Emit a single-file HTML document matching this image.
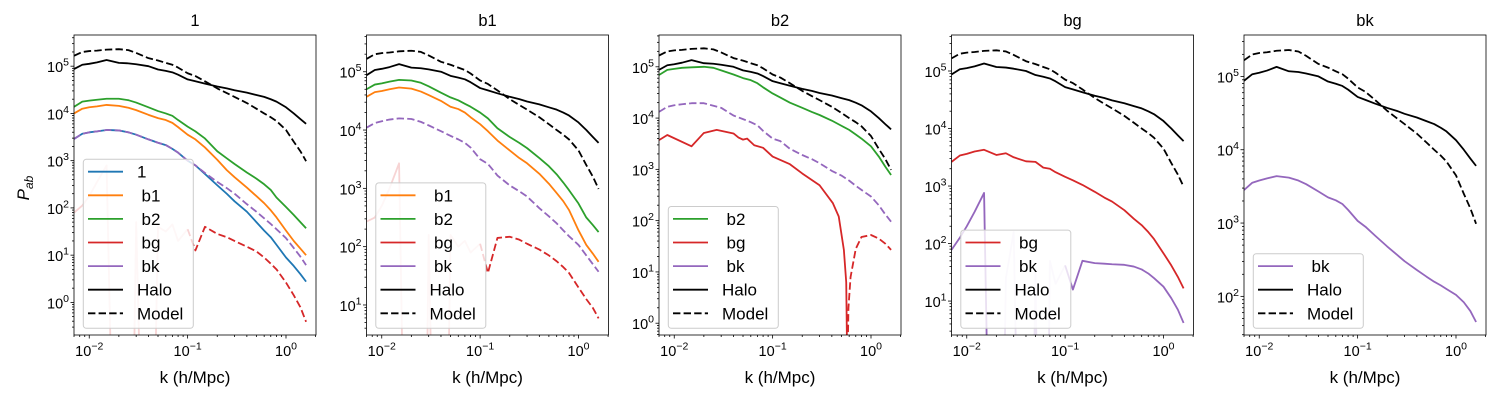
<!DOCTYPE html>
<html><head><meta charset="utf-8">
<style>
html,body{margin:0;padding:0;background:#fff;overflow:hidden;width:1500px;height:400px;}
svg{display:block;font-family:"Liberation Sans","DejaVu Sans",sans-serif;}
</style></head>
<body>
<svg id="fig" width="1500" height="400" viewBox="0 0 1500 400" xmlns="http://www.w3.org/2000/svg">
<rect x="0" y="0" width="1500" height="400" fill="#fff"/>
<text transform="translate(29,188) rotate(-90)" font-size="17" text-anchor="middle" font-style="italic">P<tspan font-size="12" dy="4">ab</tspan></text>
</svg>
<script>
// ---------- data (log10 of P) ----------
const kValues = [0.007,0.0085,0.01,0.012,0.015,0.02,0.025,0.03,0.04,0.05,0.06,0.07,0.08,0.1,0.12,0.15,0.2,0.25,0.3,0.4,0.5,0.6,0.7,0.8,1.0,1.2,1.4,1.6];
const haloLog = [4.94,5.03,5.05,5.08,5.13,5.07,5.06,5.04,5.0,4.93,4.9,4.87,4.82,4.72,4.68,4.63,4.57,4.53,4.49,4.44,4.39,4.35,4.3,4.25,4.13,4.0,3.88,3.78];
const modelLog = [5.22,5.3,5.32,5.33,5.35,5.36,5.34,5.28,5.17,5.12,5.07,5.03,4.97,4.85,4.79,4.68,4.53,4.43,4.35,4.22,4.1,4.0,3.92,3.84,3.65,3.4,3.2,2.99];
const p1OneLog = [3.46,3.57,3.60,3.62,3.65,3.64,3.60,3.55,3.45,3.38,3.33,3.25,3.17,3.0,2.9,2.72,2.48,2.3,2.14,1.92,1.7,1.52,1.38,1.22,0.95,0.77,0.6,0.44];
const p1B1Log = [4.0,4.1,4.13,4.15,4.18,4.16,4.12,4.07,3.97,3.9,3.86,3.8,3.71,3.55,3.45,3.28,3.02,2.8,2.65,2.43,2.25,2.1,1.95,1.8,1.52,1.3,1.14,1.0];
const p1B2Log = [4.14,4.25,4.27,4.29,4.31,4.31,4.28,4.23,4.13,4.05,4.0,3.95,3.86,3.72,3.62,3.47,3.2,3.05,2.93,2.75,2.62,2.5,2.38,2.22,2.02,1.85,1.7,1.57];
const p1BkLog = [3.46,3.57,3.60,3.62,3.65,3.64,3.60,3.55,3.45,3.38,3.33,3.25,3.17,3.0,2.9,2.74,2.55,2.42,2.3,2.08,1.92,1.78,1.66,1.55,1.36,1.15,0.97,0.79];
const p1BgLog = [null,null,null,null,null,null,null,null,null,null,null,null,null,1.55,1.1,1.6,1.45,1.38,1.3,1.18,1.08,0.95,0.82,0.7,0.42,0.15,-0.1,-0.41];
const p1BgFadedLog = [1.9,2.05,2.25,2.55,2.9,-9,-9,1.7,-9,1.6,1.5,1.65,1.3,1.55,null,null,null,null,null,null,null,null,null,null,null,null,null,null];
const p2B1Log = [4.57,4.65,4.67,4.7,4.73,4.71,4.66,4.6,4.5,4.4,4.36,4.3,4.22,4.1,3.98,3.82,3.65,3.52,3.43,3.25,3.08,2.92,2.78,2.63,2.28,2.03,1.88,1.74];
const p2B2Log = [4.7,4.78,4.8,4.83,4.86,4.85,4.81,4.75,4.64,4.56,4.51,4.45,4.4,4.3,4.2,4.03,3.88,3.78,3.69,3.52,3.38,3.24,3.1,2.97,2.74,2.5,2.37,2.25];
const p2BkLog = [4.04,4.12,4.15,4.18,4.2,4.19,4.14,4.08,3.98,3.9,3.84,3.78,3.7,3.5,3.42,3.22,3.05,2.95,2.86,2.66,2.52,2.4,2.28,2.18,2.03,1.85,1.7,1.57];
const p2BgLog = [null,null,null,null,null,null,null,null,null,null,null,null,null,2.05,1.55,2.15,2.17,2.12,2.05,1.95,1.85,1.75,1.65,1.55,1.3,1.1,0.95,0.77];
const p2BgFadedLog = [2.43,2.5,2.7,3.0,3.43,-9,-9,2.2,-9,2.2,2.0,2.1,1.9,2.05,null,null,null,null,null,null,null,null,null,null,null,null,null,null];
const p3B2Log = [4.84,4.94,4.96,4.98,4.99,5.0,4.98,4.93,4.85,4.78,4.74,4.68,4.6,4.48,4.4,4.3,4.2,4.12,4.06,3.95,3.85,3.77,3.68,3.6,3.45,3.25,3.05,2.89];
const p3BkLog = [4.12,4.22,4.25,4.27,4.29,4.29,4.24,4.2,4.05,3.98,3.92,3.86,3.75,3.6,3.55,3.4,3.28,3.2,3.12,2.97,2.88,2.78,2.68,2.6,2.47,2.3,2.12,1.98];
const p3BgSolidK = [0.007,0.0085,0.015,0.02,0.027,0.04,0.045,0.05,0.055,0.065,0.08,0.1,0.15,0.2,0.3,0.41,0.47,0.53,0.56,0.575];
const p3BgSolidLog = [3.57,3.67,3.45,3.71,3.77,3.7,3.62,3.58,3.6,3.47,3.42,3.25,3.1,2.92,2.69,2.34,2.08,1.43,0.8,-1];
const p3BgDashK = [0.575,0.59,0.62,0.7,0.8,1.0,1.2,1.4,1.6];
const p3BgDashLog = [-1,0.3,0.9,1.45,1.68,1.72,1.65,1.55,1.43];
const p4BgLog = [3.42,3.53,3.56,3.6,3.63,3.54,3.57,3.5,3.43,3.42,3.32,3.3,3.24,3.16,3.1,3.02,2.9,2.8,2.73,2.58,2.43,2.32,2.2,2.08,1.83,1.62,1.42,1.22];
const p4BkLog = [1.89,2.1,2.3,2.55,2.88,-9,null,null,null,null,null,null,null,1.62,1.2,1.7,1.66,1.65,1.64,1.63,1.6,1.55,1.48,1.4,1.25,1.05,0.85,0.62];
const p4BkFadedLog = [null,null,null,null,2.88,-9,1.4,2.2,-9,1.5,-9,1.7,1.3,1.62,null,null,null,null,null,null,null,null,null,null,null,null,null,null];
const p5BkLog = [3.45,3.55,3.58,3.61,3.64,3.62,3.58,3.53,3.43,3.35,3.31,3.26,3.18,3.03,2.95,2.83,2.68,2.57,2.48,2.36,2.27,2.2,2.15,2.1,2.02,1.92,1.8,1.65];
const panelTitles = ["1","b1","b2","bg","bk"];
const yLimits = [[-0.69,5.66],[0.485,5.63],[-0.23,5.62],[0.41,5.626],[1.473,5.565]];
const xTickLabels = ["\u22122","\u22121","0"];

const C = {blue:"#1f77b4",orange:"#ff7f0e",green:"#2ca02c",red:"#d62728",purple:"#9467bd",black:"#000"};
const DASH = "7.4,3.2";
const NS = "http://www.w3.org/2000/svg";
const svg = document.getElementById('fig');
function mk(tag, attrs, parent){const e=document.createElementNS(NS,tag);for(const a in attrs)e.setAttribute(a,attrs[a]);(parent||svg).appendChild(e);return e;}

const panels = [
 {series:[
   {n:"bg-faded",k:kValues,v:p1BgFadedLog,c:C.red,o:0.2},
   {n:"halo",k:kValues,v:haloLog,c:C.black},{n:"model",k:kValues,v:modelLog,c:C.black,d:DASH},
   {n:"one",k:kValues,v:p1OneLog,c:C.blue},{n:"b1",k:kValues,v:p1B1Log,c:C.orange},
   {n:"b2",k:kValues,v:p1B2Log,c:C.green},{n:"bk",k:kValues,v:p1BkLog,c:C.purple,d:DASH},
   {n:"bg",k:kValues,v:p1BgLog,c:C.red,d:DASH}],
  legend:[["1",C.blue],[" b1",C.orange],[" b2",C.green],[" bg",C.red],[" bk",C.purple],["Halo",C.black],["Model",C.black,DASH]]},
 {series:[
   {n:"bg-faded",k:kValues,v:p2BgFadedLog,c:C.red,o:0.2},
   {n:"halo",k:kValues,v:haloLog,c:C.black},{n:"model",k:kValues,v:modelLog,c:C.black,d:DASH},
   {n:"b1",k:kValues,v:p2B1Log,c:C.orange},{n:"b2",k:kValues,v:p2B2Log,c:C.green},
   {n:"bk",k:kValues,v:p2BkLog,c:C.purple,d:DASH},{n:"bg",k:kValues,v:p2BgLog,c:C.red,d:DASH}],
  legend:[[" b1",C.orange],[" b2",C.green],[" bg",C.red],[" bk",C.purple],["Halo",C.black],["Model",C.black,DASH]]},
 {series:[
   {n:"halo",k:kValues,v:haloLog,c:C.black},{n:"model",k:kValues,v:modelLog,c:C.black,d:DASH},
   {n:"b2",k:kValues,v:p3B2Log,c:C.green},{n:"bk",k:kValues,v:p3BkLog,c:C.purple,d:DASH},
   {n:"bg",k:p3BgSolidK,v:p3BgSolidLog,c:C.red},{n:"bg-negative",k:p3BgDashK,v:p3BgDashLog,c:C.red,d:DASH}],
  legend:[[" b2",C.green],[" bg",C.red],[" bk",C.purple],["Halo",C.black],["Model",C.black,DASH]]},
 {series:[
   {n:"bk-faded",k:kValues,v:p4BkFadedLog,c:C.purple,o:0.2},
   {n:"halo",k:kValues,v:haloLog,c:C.black},{n:"model",k:kValues,v:modelLog,c:C.black,d:DASH},
   {n:"bg",k:kValues,v:p4BgLog,c:C.red},{n:"bk",k:kValues,v:p4BkLog,c:C.purple}],
  legend:[[" bg",C.red],[" bk",C.purple],["Halo",C.black],["Model",C.black,DASH]]},
 {series:[
   {n:"halo",k:kValues,v:haloLog,c:C.black},{n:"model",k:kValues,v:modelLog,c:C.black,d:DASH},
   {n:"bk",k:kValues,v:p5BkLog,c:C.purple}],
  legend:[[" bk",C.purple],["Halo",C.black],["Model",C.black,DASH]]}
];

const TOP=35, BOT=335, W=242, XL=[-2.155,0.305];
panels.forEach((p,i)=>{
  const L = 74 + i*292.5;
  const yl = yLimits[i];
  const xs = k => L + (Math.log10(k)-XL[0])/(XL[1]-XL[0])*W;
  const ys = lv => BOT - (lv-yl[0])/(yl[1]-yl[0])*(BOT-TOP);
  const g = mk('g',{});
  
  
  const cp = mk('clipPath',{id:'clip'+i},g);
  mk('rect',{x:L,y:TOP,width:W,height:BOT-TOP},cp);
  const title = mk('text',{x:L+W/2,y:26,'font-size':16.5,'text-anchor':'middle'},g);
  title.textContent = panelTitles[i];
  
  
  const sg = mk('g',{'clip-path':'url(#clip'+i+')'},g);
  p.series.forEach(s=>{
    let d='', pen=false;
    s.k.forEach((k,j)=>{
      const v = s.v[j];
      if(v===null||v===undefined){pen=false;return;}
      d += (pen?'L':'M') + xs(k).toFixed(2)+','+ys(Math.max(v,-20)).toFixed(2);
      pen=true;
    });
    const path = mk('path',{d:d,fill:'none',stroke:s.c,'stroke-width':1.8,'stroke-linejoin':'round'},sg);
    if(s.d) path.setAttribute('stroke-dasharray',s.d);
    if(s.o) path.setAttribute('stroke-opacity',s.o);
    
    
  });
  const tg = mk('g',{stroke:'#000','stroke-width':0.8},g);
  for(let e=-3;e<=0;e++){
    for(let m=1;m<=9;m++){
      const lk = e+Math.log10(m);
      if(lk<XL[0]||lk>XL[1]) continue;
      const x = L + (lk-XL[0])/(XL[1]-XL[0])*W;
      mk('line',{x1:x,x2:x,y1:BOT,y2:BOT+(m===1?3.5:2)},tg);
      if(m===1){
        const t = mk('text',{x:x,y:BOT+21,'font-size':14.5,'text-anchor':'middle',stroke:'none'},g);
        t.innerHTML = '10<tspan font-size="10.5" dy="-6.5">'+xTickLabels[e+2]+'</tspan>';
        
        
      }
    }
  }
  for(let e=Math.floor(yl[0]);e<=Math.ceil(yl[1]);e++){
    for(let m=1;m<=9;m++){
      const lv = e+Math.log10(m);
      if(lv<yl[0]||lv>yl[1]) continue;
      const y = ys(lv);
      mk('line',{x1:L,x2:L-(m===1?3.5:2),y1:y,y2:y},tg);
      if(m===1){
        const t = mk('text',{x:L-5,y:y+6,'font-size':14.5,'text-anchor':'end'},g);
        t.innerHTML = '10<tspan font-size="10.5" dy="-6.5">'+e+'</tspan>';
        
        
      }
    }
  }
  mk('rect',{x:L,y:TOP,width:W,height:BOT-TOP,fill:'none',stroke:'#000','stroke-width':0.8},g);
  const xl = mk('text',{x:L+W/2,y:383,'font-size':17,'text-anchor':'middle'},g);
  xl.textContent = 'k (h/Mpc)';
  
  
  const n = p.legend.length, lh = n*23.6+3.8;
  const lx = L+9.3, ly = 328.3-lh;
  const lgd = mk('g',{},g);
  
  
  mk('rect',{x:lx,y:ly,width:110,height:lh,rx:3,fill:'#fff','fill-opacity':0.8,stroke:'#ccc','stroke-width':1},lgd);
  p.legend.forEach((e,j)=>{
    const cy = ly+12.4+j*23.6;
    const ln = mk('line',{x1:lx+4.7,x2:lx+39.7,y1:cy,y2:cy,stroke:e[1],'stroke-width':1.8},lgd);
    if(e[2]) ln.setAttribute('stroke-dasharray',e[2]);
    const sp = e[0].startsWith(' ');
    const t = mk('text',{x:lx+53.7+(sp?4.5:0),y:cy+6,'font-size':17},lgd);
    t.textContent = e[0].trim();
    
    
  });
});
</script>
</body></html>
